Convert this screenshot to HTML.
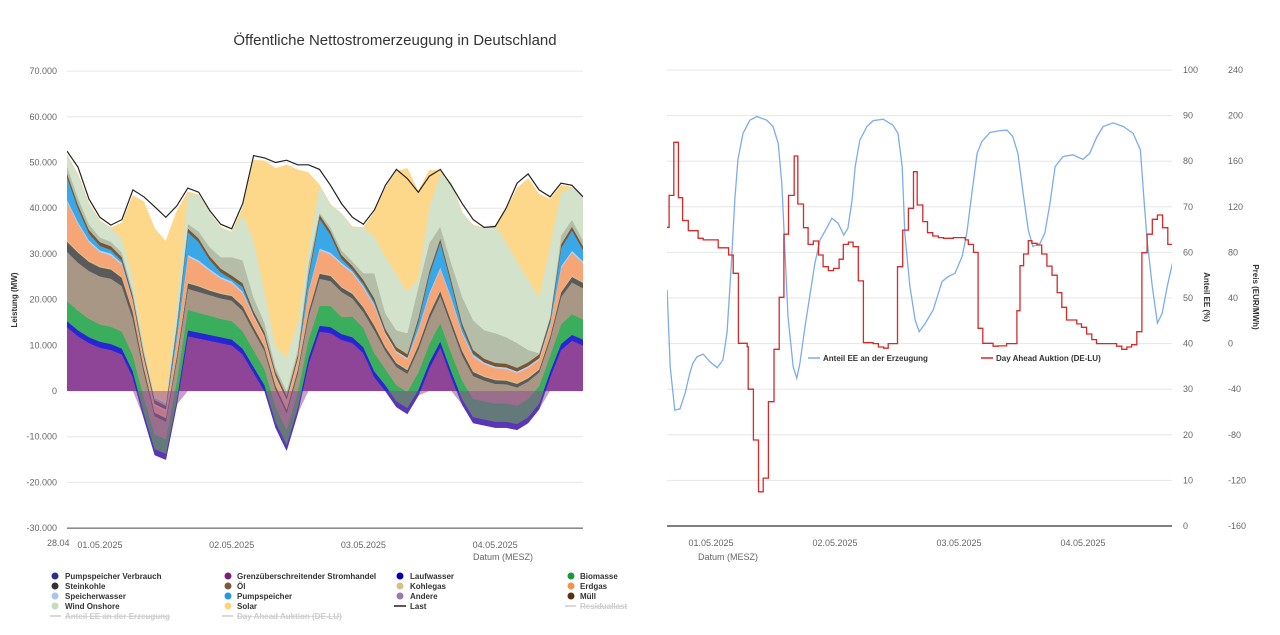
<!DOCTYPE html>
<html><head><meta charset="utf-8"><title>Öffentliche Nettostromerzeugung in Deutschland</title>
<style>
html,body{margin:0;padding:0;background:#fff;}
svg{display:block;font-family:"Liberation Sans",sans-serif;}
.tk{font-size:9px;fill:#666;}
.lg{font-size:8px;font-weight:bold;fill:#333;}
.lgh{font-size:8px;font-weight:bold;fill:#ccc;text-decoration:line-through;}
</style></head>
<body>
<svg id="root" width="1280" height="635" viewBox="0 0 1280 635">
<defs>
<clipPath id="clipL"><rect x="67" y="60" width="516" height="470"/></clipPath>
<clipPath id="clipR"><rect x="667" y="60" width="505" height="470"/></clipPath>
</defs>
<text x="395" y="45" text-anchor="middle" font-size="15" fill="#333">Öffentliche Nettostromerzeugung in Deutschland</text>
<g id="gridL"></g>
<g id="gridR"></g>
<g id="areas" clip-path="url(#clipL)"></g>
<g id="linesR" clip-path="url(#clipR)"></g>
<g id="axes"></g>
<text transform="translate(17,300) rotate(-90)" text-anchor="middle" font-size="8" font-weight="bold" fill="#333">Leistung (MW)</text>
<text transform="translate(1204,297) rotate(90)" text-anchor="middle" font-size="8" font-weight="bold" fill="#333">Anteil EE (%)</text>
<text transform="translate(1253,297) rotate(90)" text-anchor="middle" font-size="8" font-weight="bold" fill="#333">Preis (EUR/MWh)</text>
<text x="47" y="546" class="tk" fill="#333">28.04</text>
<text x="503" y="560" text-anchor="middle" class="tk">Datum (MESZ)</text>
<text x="728" y="560" text-anchor="middle" class="tk">Datum (MESZ)</text>
<g>
<g><line x1="808" y1="358" x2="820" y2="358" stroke="#7cacec" stroke-width="1.5"/><text x="823" y="361" class="lg">Anteil EE an der Erzeugung</text></g>
<g><line x1="981" y1="358" x2="993" y2="358" stroke="#d22" stroke-width="1.5"/><text x="996" y="361" class="lg">Day Ahead Auktion (DE-LU)</text></g>
</g>
<g>
<g><circle cx="55" cy="576" r="3.5" fill="#2d2d8a"/><text x="65" y="579" class="lg">Pumpspeicher Verbrauch</text></g>
<g><circle cx="55" cy="586" r="3.5" fill="#333"/><text x="65" y="589" class="lg">Steinkohle</text></g>
<g><circle cx="55" cy="596" r="3.5" fill="#a9c4f0"/><text x="65" y="599" class="lg">Speicherwasser</text></g>
<g><circle cx="55" cy="606" r="3.5" fill="#c7dbbf"/><text x="65" y="609" class="lg">Wind Onshore</text></g>
<g><line x1="50" y1="616" x2="61" y2="616" stroke="#ccc" stroke-width="1.5"/><text x="65" y="619" class="lgh">Anteil EE an der Erzeugung</text></g>
<g><circle cx="228" cy="576" r="3.5" fill="#7a1f7a"/><text x="237" y="579" class="lg">Grenzüberschreitender Stromhandel</text></g>
<g><circle cx="228" cy="586" r="3.5" fill="#7a5a3c"/><text x="237" y="589" class="lg">Öl</text></g>
<g><circle cx="228" cy="596" r="3.5" fill="#1f9ae0"/><text x="237" y="599" class="lg">Pumpspeicher</text></g>
<g><circle cx="228" cy="606" r="3.5" fill="#fdd37a"/><text x="237" y="609" class="lg">Solar</text></g>
<g><line x1="222" y1="616" x2="233" y2="616" stroke="#ccc" stroke-width="1.5"/><text x="237" y="619" class="lgh">Day Ahead Auktion (DE-LU)</text></g>
<g><circle cx="400" cy="576" r="3.5" fill="#0000b3"/><text x="410" y="579" class="lg">Laufwasser</text></g>
<g><circle cx="400" cy="586" r="3.5" fill="#d9c08a"/><text x="410" y="589" class="lg">Kohlegas</text></g>
<g><circle cx="400" cy="596" r="3.5" fill="#9a7ab0"/><text x="410" y="599" class="lg">Andere</text></g>
<g><line x1="394" y1="606" x2="406" y2="606" stroke="#222" stroke-width="1.5"/><text x="410" y="609" class="lg">Last</text></g>
<g><circle cx="571" cy="576" r="3.5" fill="#1a9a3a"/><text x="580" y="579" class="lg">Biomasse</text></g>
<g><circle cx="571" cy="586" r="3.5" fill="#f49050"/><text x="580" y="589" class="lg">Erdgas</text></g>
<g><circle cx="571" cy="596" r="3.5" fill="#5a3010"/><text x="580" y="599" class="lg">Müll</text></g>
<g><line x1="565" y1="606" x2="576" y2="606" stroke="#ccc" stroke-width="1.5"/><text x="580" y="609" class="lgh">Residuallast</text></g>
</g>
</svg>
<script>
// ---- Left chart data (GW, 2-hour steps starting 30.04 18:00) ----
const hours = [-6,-4,-2,0,2,4,6,8,10,12,14,16,18,20,22,24,26,28,30,32,34,36,38,40,42,44,46,48,50,52,54,56,58,60,62,64,66,68,70,72,74,76,78,80,82,84,86,88];
const trade = [14,12,10.5,9.5,9,8,3,-6,-14,-15,-3,12,11.5,11,10.5,10,8,4,0,-8,-13,-5,6,13,12.7,11.2,10.5,8.3,3,0,-3.5,-5,-1,5,9.6,3,-3,-7,-7.5,-8,-8,-8.5,-7,-4,3,9,11,10];
const laufwasser = [1.3,1.3,1.3,1.3,1.3,1.3,1.3,1.3,1.3,1.3,1.3,1.3,1.3,1.3,1.3,1.3,1.3,1.3,1.3,1.3,1.3,1.3,1.3,1.3,1.3,1.3,1.3,1.3,1.3,1.3,1.3,1.3,1.3,1.3,1.3,1.3,1.3,1.3,1.3,1.3,1.3,1.3,1.3,1.3,1.3,1.3,1.3,1.3];
const biomasse = [4.4,4.3,4,3.8,3.8,3.7,3.5,3.3,3.2,3.2,4,4.5,4.3,4.2,4,4,3.8,3.6,3.5,3.3,3.2,3.5,4,4.4,4.6,3.7,4.5,4.2,4,3.5,3.5,3.5,3.8,4,4,4,4,4,4,4,4,4,4,3.8,3.5,4.3,4.5,4.4];
const braunkohle = [10.8,10.5,10.5,10.5,10.5,10,8,5.5,4,3.8,4.5,4.6,4.6,4.5,4.5,4.5,4.5,4.2,4,3.8,3.7,4,5,5.9,5.5,5.5,4,3.5,5,4,4,4,5,5.5,6,6,5.5,5,4.5,4.3,4.2,4,3.8,3,3.5,6,7,6.8];
const steinkohle = [2.2,2.2,2,2,2,1.8,1.5,1,0.8,0.8,1,1.2,1.2,1,1,1,1,0.9,0.8,0.8,0.8,0.8,1,1.1,1.1,1,1,1,1,0.8,0.8,0.8,0.9,1,1,1,1,0.9,0.8,0.8,0.8,0.8,0.7,0.6,0.7,1,1.2,1.2];
const kohlegas = [0.3,0.3,0.3,0.3,0.3,0.3,0.3,0.3,0.3,0.3,0.3,0.3,0.3,0.3,0.3,0.3,0.3,0.3,0.3,0.3,0.3,0.3,0.3,0.3,0.3,0.3,0.3,0.3,0.3,0.3,0.3,0.3,0.3,0.3,0.3,0.3,0.3,0.3,0.3,0.3,0.3,0.3,0.3,0.3,0.3,0.3,0.3,0.3];
const erdgas = [8.5,6,4,3,2.8,2.5,2,1.5,1.2,1.2,3,5.5,5,4,3,2.5,2.5,2,1.8,1.5,1.5,1.8,4,4.8,4.4,4.7,4.2,4,4,2.5,2,2,3,4,4.5,4.5,3.5,3,2.5,2.3,2.2,2,2,1.8,2,5,5,4];
const speicherwasser = [0.4,0.4,0.4,0.4,0.4,0.4,0.4,0.4,0.4,0.4,0.4,0.4,0.4,0.4,0.4,0.4,0.4,0.4,0.4,0.4,0.4,0.4,0.4,0.4,0.4,0.4,0.4,0.4,0.4,0.4,0.4,0.4,0.4,0.4,0.4,0.4,0.4,0.4,0.4,0.4,0.4,0.4,0.4,0.4,0.4,0.4,0.4,0.4];
const pumpspeicher = [5,3,1.5,1,0.8,0.5,0,0,0,0,2,5,4,2,1,0.5,1,0,0,0,0,0,3,6.6,3.9,0.9,0.4,0.5,0.5,0,0,0,1.5,4,5.5,3,1,0.3,0,0,0,0,0,0,0.5,4,4.5,2.5];
const muell = [0.8,0.8,0.8,0.8,0.8,0.8,0.8,0.8,0.8,0.8,0.8,0.8,0.8,0.8,0.8,0.8,0.8,0.8,0.8,0.8,0.8,0.8,0.8,0.8,0.8,0.8,0.8,0.8,0.8,0.8,0.8,0.8,0.8,0.8,0.8,0.8,0.8,0.8,0.8,0.8,0.8,0.8,0.8,0.8,0.8,0.8,0.8,0.8];
const windOffshore = [1.5,1.5,1.2,1,1,1,1,0.8,0.5,0.5,1,1,1.5,2,2.5,4,5,3,2,1,1,1,2,0.5,0.8,1,1,1.5,5.5,3.4,3.7,4.6,6.8,6.1,2.6,3.7,5.8,6.5,6.2,6.5,5.8,5.4,2.7,0.3,0.2,1.9,1.5,1.3];
const windOnshore = [2.5,5,4.5,3.7,3,3,3,1,0.5,0.5,4,6.5,8,7.5,6.5,5.5,10,12.5,7,4.5,7.5,6,3,6,5,8,7.5,10,7.9,12.5,12.3,9,1.9,7.9,11.7,17.5,18.4,20.8,22.4,23.6,20.8,17.9,15.5,12.3,15.8,9.5,7.1,9.5];
const solar = [0,0,0,0,0,3.5,18,31.5,36.5,35,20,0.5,0,0,0,0,1.5,17.5,28.5,39,42,33.5,17,0,0,0,0,0,5.5,15,22.5,27,19,8,0.5,0,0,0,0,0,7,16,22,22.5,10,1.5,0,0];
const load = [52.5,49,42,38,36.3,37.5,44,42.5,40.3,38,40.5,44.4,43.5,39.5,36.5,35.5,41,51.5,51,50,50.5,49.5,49.5,48.5,45,41,38,36.5,39.6,45,48.5,46.5,43.5,47,48.5,45,41,37.5,35.8,36,40,45.5,47.5,44,42.5,45.5,45,42.5];
const leftTicks = [70,60,50,40,30,20,10,0,-10,-20,-30];
const leftTickLabels = ["70.000","60.000","50.000","40.000","30.000","20.000","10.000","0","-10.000","-20.000","-30.000"];
const dayTicks = [0,24,48,72];
const dayLabels = ["01.05.2025","02.05.2025","03.05.2025","04.05.2025"];

// ---- Right chart data (hours since 01.05 00:00) ----
const eeT = [-8.5,-7.9,-7,-6,-5,-4.1,-3.5,-2.7,-1.5,-0.2,1.2,2.3,3.1,3.9,4.6,5.2,6.2,7.5,8.9,10.8,12,13,13.7,14.3,14.9,15.9,16.6,17.2,18.2,19.2,20.1,21.1,22.5,23.4,24.6,25.7,26.5,27.3,27.9,28.8,30.2,31.4,33.3,35.2,36.2,37,37.5,38.5,38.9,39.5,40.3,41.5,43,44.7,45.9,47.2,48.6,49.5,50.5,51.5,52.4,54,55.9,57.3,58.4,59.4,60.4,61.4,62.3,63.7,64.6,65.6,66.6,68.1,70,72,73.3,74.7,75.9,77.8,79.8,81.7,83.1,83.7,84.4,85.4,86.4,87.3,88.3,89.3];
const eeV = [51.8,34.9,25.4,25.7,29.2,33.5,35.7,37.1,37.7,36,34.7,36.4,42.3,56.9,71.5,80.3,86.1,89,89.8,89,87.6,83.9,75.2,60.5,45.9,34.9,32.4,35.7,43.7,51,57.6,62.7,65.6,67.5,66.4,63.8,65.3,71.5,78.8,84.6,87.6,88.9,89.2,87.9,86.1,78.8,64.2,52.5,49.6,45.2,42.6,44.5,47.4,53.6,54.7,55.4,59.1,64.2,73,81.7,84.3,86.3,86.7,86.8,85.4,81.7,73,64.9,61.3,62,64.2,70.8,78.8,81,81.4,80.4,81.7,85.4,87.6,88.4,87.6,86.1,82.5,73,62.7,52.5,44.5,46.6,52.5,57.6];
const priceT = [-8.6,-8.1,-7.2,-6.3,-5.5,-4.4,-2.5,-1.5,1.4,3.4,4.3,5.3,7,7.2,8.2,9.2,10.1,11.1,12.2,13.2,14.1,15,16.1,16.8,17.9,18.8,19.8,20.8,21.7,22.7,23.7,24.8,25.6,26.6,27.5,28.5,29.5,31.4,32.4,33.4,34.3,36.1,37.1,38.2,39.2,39.9,41,41.9,42.9,44,45,46.9,49.2,49.8,50.8,51.7,52.6,54.6,55.6,57.2,59.2,59.8,60.5,61.4,62.1,63.1,64,65,66,67,67.9,68.8,70.8,71.7,72.7,73.7,74.6,78.5,79.5,80.5,81.4,82.4,83.4,84.4,85.4,86.4,87.4,88.4];
const priceV = [102,130,176.6,128,108,99,92.4,91,84,77.7,61.7,0.3,-2.7,-40,-84.6,-130,-118,-51,-5,40.6,96,130,164.6,122.5,101.7,87,90,77.7,67.5,64,66,74,87,89,85,55,0.8,0,-3,-4,0,67.5,99.6,118.7,150.8,121.6,107,97.3,94.4,93,92.4,93,91,87,80,13.4,0.3,-2.3,-2,0,28.9,68.3,78.6,90.3,88,86.5,78.6,68,60,44.7,31.8,20.7,17.3,14.3,8.4,3.5,0,-2.3,-5,-3,-1,10.4,79.7,96,109,112.8,101.7,87];
const eeTicks = [0,10,20,30,40,50,60,70,80,90,100];
const priceTicks = [-160,-120,-80,-40,0,40,80,120,160,200,240];
const priceEnd = 89.3;

const NS = "http://www.w3.org/2000/svg";
function mk(tag, parent, attrs){ const e=document.createElementNS(NS,tag); for(const k in attrs) e.setAttribute(k,attrs[k]); parent.appendChild(e); return e; }

const xL = t => 67 + (t - hours[0]) * 516 / (hours[hours.length-1] - hours[0]);
const yL = v => 391 - v * 4.57;
const xR = t => 711 + t * 5.167;
const yEE = v => 526 - v * 4.56;
const yP = p => 526 - (p + 160) * 1.14;

const gridL = document.getElementById('gridL');
const gridR = document.getElementById('gridR');
const axes = document.getElementById('axes');
const areas = document.getElementById('areas');
const linesR = document.getElementById('linesR');

leftTicks.forEach((v,i)=>{
  const ln = mk('line', gridL, {x1:67,x2:583,y1:yL(v),y2:yL(v),stroke: v===-30?'#444':'#e6e6e6','stroke-width':1});
  
  
  const tx = mk('text', axes, {x:57,y:yL(v)+3,'text-anchor':'end',class:'tk'});
  tx.textContent = leftTickLabels[i];
  
  
});
dayTicks.forEach((t,i)=>{
  const tx = mk('text', axes, {x:xL(t),y:548,'text-anchor':'middle',class:'tk',fill:'#333'});
  tx.textContent = dayLabels[i];
  
  
  const tx2 = mk('text', axes, {x:xR(t),y:546,'text-anchor':'middle',class:'tk'});
  tx2.textContent = dayLabels[i];
  
  
});
eeTicks.forEach((v,i)=>{
  const y = yEE(v);
  const ln = mk('line', gridR, {x1:667,x2:1172,y1:y,y2:y,stroke: v===0?'#555':'#e6e6e6','stroke-width': v===0?1.5:1});
  
  
  const tx = mk('text', axes, {x:1183,y:y+3,class:'tk'});
  tx.textContent = String(v);
  
  
});
priceTicks.forEach((p)=>{
  const tx = mk('text', axes, {x:1228,y:yP(p)+3,class:'tk'});
  tx.textContent = String(p);
  
  
});

function tradeArea(sign, opacity, name){
  let d='';
  hours.forEach((t,i)=>{
    const v = sign > 0 ? Math.max(trade[i],0) : Math.min(trade[i],0);
    d += (i?'L':'M') + xL(t).toFixed(1) + ',' + yL(v).toFixed(1);
  });
  d += 'L' + xL(hours[hours.length-1]).toFixed(1) + ',' + yL(0) + 'L' + xL(hours[0]).toFixed(1) + ',' + yL(0) + 'Z';
  const p = mk('path', areas, {d:d, fill:'#8e4598', 'fill-opacity':opacity});
  
  
}
tradeArea(1, 1, 'area-stromhandel-import');

const layers = [
  ['laufwasser', laufwasser, '#2626d4'],
  ['biomasse', biomasse, '#3aae5c'],
  ['braunkohle', braunkohle, '#a99785'],
  ['steinkohle', steinkohle, '#5a5a5a'],
  ['kohlegas', kohlegas, '#d9c08a'],
  ['erdgas', erdgas, '#f6a676'],
  ['speicherwasser', speicherwasser, '#b8cff3'],
  ['pumpspeicher', pumpspeicher, '#3aa8e6'],
  ['muell', muell, '#7a5530'],
  ['wind-offshore', windOffshore, '#b3bda8'],
  ['wind-onshore', windOnshore, '#d3e2cb'],
  ['solar', solar, '#fdd88a']
];
let base = trade.slice();
layers.forEach(([name, vals, col])=>{
  const top = base.map((b,i)=>b+vals[i]);
  let d = '';
  hours.forEach((t,i)=>{ d += (i?'L':'M') + xL(t).toFixed(1) + ',' + yL(top[i]).toFixed(1); });
  for(let i=hours.length-1;i>=0;i--) d += 'L' + xL(hours[i]).toFixed(1) + ',' + yL(base[i]).toFixed(1);
  const p = mk('path', areas, {d: d+'Z', fill: col, stroke: col, 'stroke-width':0.5});
  
  
  base = top;
});
tradeArea(-1, 0.5, 'area-stromhandel-export');
{
  let d='';
  hours.forEach((t,i)=>{ d += (i?'L':'M') + xL(t).toFixed(1) + ',' + yL(load[i]).toFixed(1); });
  const p = mk('path', areas, {d:d, fill:'none', stroke:'#222', 'stroke-width':1.2});
  
  
}
{
  let d='';
  eeT.forEach((t,i)=>{ d += (i?'L':'M') + xR(t).toFixed(1) + ',' + yEE(eeV[i]).toFixed(1); });
  const p = mk('path', linesR, {d:d, fill:'none', stroke:'#7cacec', 'stroke-width':1.3});
  
  
}
{
  let d='';
  priceT.forEach((t,i)=>{
    const y = yP(priceV[i]).toFixed(1);
    d += (i?'L':'M') + xR(t).toFixed(1) + ',' + y;
    const tn = i < priceT.length-1 ? priceT[i+1] : priceEnd;
    d += 'L' + xR(tn).toFixed(1) + ',' + y;
  });
  const p = mk('path', linesR, {d:d, fill:'none', stroke:'#d42a2a', 'stroke-width':1.3});
  
  
}
</script>
</body></html>
